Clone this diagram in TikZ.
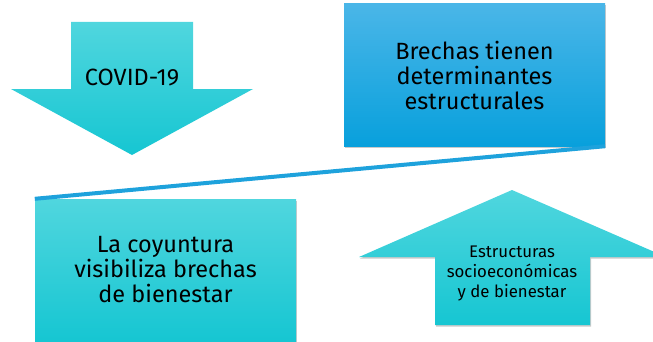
\documentclass[tikz,border=0pt]{standalone}
\usepackage{fontspec}
\setmainfont{Fira Sans}
\usetikzlibrary{shadows}
\definecolor{turqtop}{RGB}{80,214,222}
\definecolor{turqbot}{RGB}{22,198,210}
\definecolor{bluetop}{RGB}{74,182,232}
\definecolor{bluebot}{RGB}{8,160,220}
\definecolor{linkblue}{RGB}{30,162,220}
\tikzset{
  turqfill/.style={top color=turqtop, bottom color=turqbot},
  softshadow/.style={drop shadow={shadow xshift=1pt, shadow yshift=-1.5pt, opacity=0.35, fill=black!60}},
  bigtext/.style={align=center, font=\fontsize{23.5}{25}\selectfont},
  smalltext/.style={align=center, font=\fontsize{16.8}{20}\selectfont},
  panel/.style={shape=rectangle, minimum width=261pt, minimum height=142pt, bigtext}
}
\begin{document}
\begin{tikzpicture}[x=1pt, y=1pt]
\useasboundingbox (0,0) rectangle (653,341);
\clip (0,0) rectangle (653,341);
% arrows
\path[turqfill] (71,319) -- (193,319) -- (193,252) -- (253,252) -- (132,186)
  -- (11,252) -- (71,252) -- cycle;
\path[turqfill, softshadow] (435,16) -- (590,16) -- (590,84) -- (666,84) -- (512,151)
  -- (359,84) -- (435,84) -- cycle;
% boxes
\node (brechas) [panel, top color=bluetop, bottom color=bluebot, softshadow] at (474.5,266)
  {Brechas tienen\\determinantes\\estructurales};
\node (coyuntura) [panel, turqfill, softshadow] at (165.5,71)
  {La coyuntura\\visibiliza brechas\\de bienestar};
\node (covid) [bigtext] at (132,263) {COVID-19};
\node (estructuras) [smalltext] at (512,68) {Estructuras\\socioeconómicas\\y de bienestar};
\draw[linkblue, line width=4pt] (brechas.south east) -- (coyuntura.north west);
\end{tikzpicture}
\end{document}
